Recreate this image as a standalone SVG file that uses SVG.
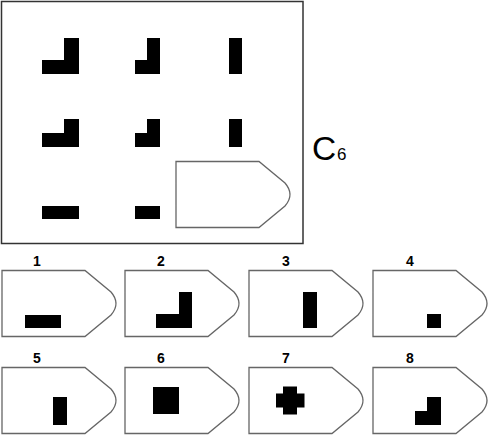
<svg xmlns="http://www.w3.org/2000/svg" xmlns:xlink="http://www.w3.org/1999/xlink" width="488" height="435" viewBox="0 0 488 435">
<style>
.frame{fill:#fff;stroke:#333;stroke-width:1.5}
.slot{fill:#fff;stroke:#666;stroke-width:1.3}
.blk{fill:#000}
.lbl{font-family:"Liberation Sans",Arial,sans-serif;font-weight:bold;font-size:14px;fill:#000;text-anchor:middle}
.big{font-family:"Liberation Sans",Arial,sans-serif;fill:#000}
</style>
<defs>
<path id="slotShape" d="M0,0 H83 L109,21.5 Q119,33 109,44.5 L83,66 H0 Z"/>
</defs>
<rect width="488" height="435" fill="#fff"/>
<g id="matrix">
<rect class="frame" x="1.5" y="1.5" width="301.5" height="242"/>
<g id="r1c1"><rect class="blk" x="64" y="38" width="15" height="36"/><rect class="blk" x="42" y="60" width="37" height="14"/></g>
<g id="r1c2"><rect class="blk" x="147" y="38" width="13" height="36"/><rect class="blk" x="135" y="60" width="25" height="14"/></g>
<g id="r1c3"><rect class="blk" x="229" y="38" width="13" height="36"/></g>
<g id="r2c1"><rect class="blk" x="64" y="119" width="15" height="28"/><rect class="blk" x="42" y="133" width="37" height="14"/></g>
<g id="r2c2"><rect class="blk" x="147" y="119" width="13" height="28"/><rect class="blk" x="135" y="133" width="25" height="14"/></g>
<g id="r2c3"><rect class="blk" x="229" y="119" width="13" height="28"/></g>
<g id="r3c1"><rect class="blk" x="42" y="206" width="37" height="13"/></g>
<g id="r3c2"><rect class="blk" x="135" y="206" width="25" height="13"/></g>
<g id="answerSlot"><use xlink:href="#slotShape" class="slot" x="176" y="161.5"/></g>
</g>
<g id="title"><text class="big" x="312" y="159.5" font-size="33.5">C</text><text class="big" x="337" y="159.5" font-size="17">6</text></g>
<g id="opt1"><text class="lbl" x="37" y="266">1</text><use xlink:href="#slotShape" class="slot" x="2" y="270.5"/><rect class="blk" x="25" y="315" width="36" height="13"/></g>
<g id="opt2"><text class="lbl" x="161" y="266">2</text><use xlink:href="#slotShape" class="slot" x="125" y="270.5"/><rect class="blk" x="179" y="292" width="13" height="36"/><rect class="blk" x="156" y="314" width="36" height="14"/></g>
<g id="opt3"><text class="lbl" x="286" y="266">3</text><use xlink:href="#slotShape" class="slot" x="249" y="270.5"/><rect class="blk" x="303" y="292" width="14" height="36"/></g>
<g id="opt4"><text class="lbl" x="410" y="266">4</text><use xlink:href="#slotShape" class="slot" x="373" y="270.5"/><rect class="blk" x="427" y="314" width="14" height="14"/></g>
<g id="opt5"><text class="lbl" x="37" y="363">5</text><use xlink:href="#slotShape" class="slot" x="2" y="367.5"/><rect class="blk" x="53" y="397" width="14" height="28"/></g>
<g id="opt6"><text class="lbl" x="161" y="363">6</text><use xlink:href="#slotShape" class="slot" x="125" y="367.5"/><rect class="blk" x="153" y="387" width="26" height="27"/></g>
<g id="opt7"><text class="lbl" x="286" y="363">7</text><use xlink:href="#slotShape" class="slot" x="249" y="367.5"/><rect class="blk" x="283" y="386.5" width="14" height="28"/><rect class="blk" x="276" y="393.5" width="28.5" height="14"/></g>
<g id="opt8"><text class="lbl" x="410" y="363">8</text><use xlink:href="#slotShape" class="slot" x="373" y="367.5"/><rect class="blk" x="427" y="397" width="14" height="28"/><rect class="blk" x="415" y="411" width="26" height="14"/></g>
<g id="connectors"/>
</svg>
